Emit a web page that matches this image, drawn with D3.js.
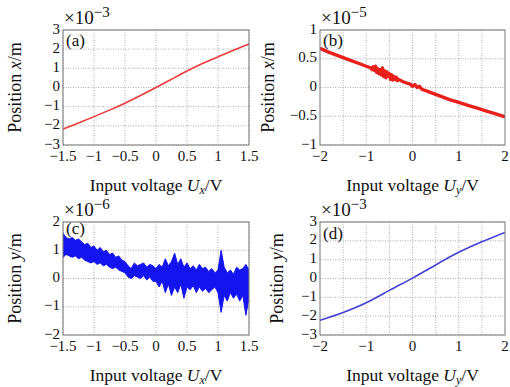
<!DOCTYPE html>
<html>
<head>
<meta charset="utf-8">
<script src="https://cdn.jsdelivr.net/npm/d3@7"></script>
<style>
  body { margin: 0; background: #fff; }
  svg { display: block; }
  text { font-family: "Liberation Serif", "Times New Roman", serif; fill: #111; }
</style>
</head>
<body>
<div id="chart"></div>
<script>
// ---- data ----
// (a) position x vs Ux, x1e-3 m
const aX = [-1.5, -1.25, -1.0, -0.75, -0.5, -0.25, 0.0, 0.25, 0.5, 0.75, 1.0, 1.25, 1.5];
const aY = [-2.17, -1.85, -1.52, -1.18, -0.82, -0.42, 0.0, 0.43, 0.86, 1.25, 1.6, 1.94, 2.27];

// (b) position x vs Uy, x1e-5 m (noisy around -0.9..-0.3)
const bX = [-2.0, -1.8, -1.6, -1.4, -1.2, -1.0,
  -0.9, -0.875, -0.85, -0.825, -0.8, -0.775, -0.75, -0.725, -0.7, -0.675, -0.65, -0.625, -0.6,
  -0.575, -0.55, -0.525, -0.5, -0.475, -0.45, -0.425, -0.4, -0.375, -0.35, -0.325, -0.3,
  -0.2, -0.1, -0.05, 0.0, 0.05, 0.1, 0.15, 0.2, 0.3, 0.4, 0.6, 0.8, 1.0, 1.2, 1.4, 1.6, 1.8, 2.0];
const bY = [0.68, 0.61, 0.55, 0.49, 0.43, 0.37,
  0.34, 0.31, 0.36, 0.30, 0.37, 0.26, 0.33, 0.24, 0.31, 0.22, 0.34, 0.19, 0.29,
  0.17, 0.27, 0.20, 0.24, 0.14, 0.22, 0.13, 0.19, 0.14, 0.18, 0.12, 0.14,
  0.10, 0.07, 0.06, 0.02, 0.05, 0.0, 0.02, -0.03, -0.06, -0.09, -0.15, -0.21, -0.26, -0.31, -0.36, -0.41, -0.46, -0.51];

// (c) position y vs Ux, x1e-6 m, noise band (upper / lower envelope)
const cX = [-1.5, -1.45, -1.4, -1.35, -1.3, -1.25, -1.2, -1.15, -1.1, -1.05, -1.0, -0.95, -0.9, -0.85,
  -0.8, -0.75, -0.7, -0.65, -0.6, -0.55, -0.5, -0.45, -0.4, -0.35, -0.3, -0.25, -0.2, -0.15, -0.1,
  -0.05, 0.0, 0.05, 0.1, 0.15, 0.2, 0.25, 0.3, 0.35, 0.4, 0.45, 0.5, 0.55, 0.6, 0.65, 0.7, 0.75,
  0.8, 0.85, 0.9, 0.95, 1.0, 1.05, 1.1, 1.15, 1.2, 1.25, 1.3, 1.35, 1.4, 1.45, 1.5];
const cHi = [1.6, 1.45, 1.4, 1.45, 1.35, 1.4, 1.3, 1.2, 1.25, 1.1, 1.15, 1.0, 1.1, 0.95,
  1.0, 0.85, 0.9, 0.75, 0.8, 0.65, 0.6, 0.45, 0.35, 0.55, 0.45, 0.5, 0.55, 0.4, 0.5,
  0.45, 0.35, 0.5, 0.4, 0.7, 0.45, 0.6, 0.9, 0.5, 0.7, 0.4, 0.55, 0.35, 0.45, 0.3, 0.5, 0.35,
  0.4, 0.25, 0.35, 0.2, 0.3, 1.0, 0.4, 0.2, 0.3, 0.15, 0.4, 0.3, 0.35, 0.5, 0.3];
const cLo = [0.75, 0.85, 0.8, 0.75, 0.8, 0.7, 0.75, 0.65, 0.6, 0.55, 0.6, 0.5, 0.55, 0.45,
  0.5, 0.4, 0.35, 0.4, 0.3, 0.25, 0.2, 0.05, 0.0, 0.1, 0.05, 0.0, 0.1, -0.05, 0.05,
  -0.1, -0.1, -0.3, -0.1, -0.5, -0.2, -0.6, -0.3, -0.5, -0.2, -0.7, -0.3, -0.4, -0.25, -0.5, -0.3, -0.45,
  -0.35, -0.5, -0.4, -0.3, -0.5, -1.2, -0.6, -0.8, -0.5, -0.7, -0.55, -0.8, -0.6, -1.3, -0.7];

// (d) position y vs Uy, x1e-3 m
const dX = [-2.0, -1.5, -1.0, -0.5, 0.0, 0.5, 1.0, 1.5, 2.0];
const dY = [-2.22, -1.8, -1.29, -0.63, 0.02, 0.72, 1.39, 1.95, 2.45];

// tick values
const ticksX15 = [-1.5, -1, -0.5, 0, 0.5, 1, 1.5];
const ticksX2 = [-2, -1, 0, 1, 2];
const gridX2 = [-1.5, -1, -0.5, 0, 0.5, 1, 1.5];
const ticksY3 = [-3, -2, -1, 0, 1, 2, 3];
const ticksY1 = [-1, -0.5, 0, 0.5, 1];
const ticksY2 = [-2, -1, 0, 1, 2];

const W = 510, H = 387;
const svg = d3.select('#chart').append('svg').attr('width', W).attr('height', H);

const fmt = v => (v < 0 ? '\u2212' : '') + Math.abs(v);

function drawPanel(p) {
  const x = d3.scaleLinear().domain(p.xDomain).range([p.left, p.right]);
  const y = d3.scaleLinear().domain(p.yDomain).range([p.bottom, p.top]);
  const g = svg.append('g');

  // grid
  g.selectAll('line.gx').data(p.gridX).enter().append('line')
    .attr('x1', d => x(d)).attr('x2', d => x(d))
    .attr('y1', p.top).attr('y2', p.bottom)
    .attr('stroke', '#999').attr('stroke-width', 0.8).attr('stroke-dasharray', '1,1.5');
  g.selectAll('line.gy').data(p.gridY).enter().append('line')
    .attr('x1', p.left).attr('x2', p.right)
    .attr('y1', d => y(d)).attr('y2', d => y(d))
    .attr('stroke', '#999').attr('stroke-width', 0.8).attr('stroke-dasharray', '1,1.5');

  // data
  const clip = 'clip' + p.id;
  svg.append('clipPath').attr('id', clip).append('rect')
    .attr('x', p.left).attr('y', p.top).attr('width', p.right - p.left).attr('height', p.bottom - p.top);
  const dg = g.append('g').attr('clip-path', `url(#${clip})`);
  if (p.band) {
    const area = d3.area().x((d, i) => x(p.xs[i])).y0((d, i) => y(p.lo[i])).y1((d, i) => y(p.hi[i]));
    dg.append('path').datum(p.xs).attr('d', area)
      .attr('fill', p.color).attr('stroke', p.color).attr('stroke-width', 1).attr('stroke-linejoin', 'round');
  } else {
    const line = d3.line().x((d, i) => x(p.xs[i])).y(d => y(d)).curve(p.curve);
    dg.append('path').datum(p.ys).attr('d', line)
      .attr('fill', 'none').attr('stroke', p.color).attr('stroke-width', p.width).attr('stroke-linejoin', 'round');
  }

  // box
  g.append('rect').attr('x', p.left).attr('y', p.top)
    .attr('width', p.right - p.left).attr('height', p.bottom - p.top)
    .attr('fill', 'none').attr('stroke', '#777').attr('stroke-width', 1);

  // tick labels
  g.selectAll('text.tx').data(p.ticksX).enter().append('text')
    .attr('x', d => x(d)).attr('y', p.bottom + 15.5)
    .attr('text-anchor', 'middle').attr('font-size', 15).text(fmt);
  g.selectAll('text.ty').data(p.ticksY).enter().append('text')
    .attr('x', p.left - 3).attr('y', d => y(d) + 3.5)
    .attr('text-anchor', 'end').attr('font-size', 15).text(fmt);

  // exponent
  const e = g.append('text').attr('x', p.left + 1).attr('y', p.top - 6).attr('font-size', 19);
  e.append('tspan').text('\u00d710');
  e.append('tspan').attr('dy', -7).attr('font-size', 15).text('\u2212' + p.exp);

  // panel label
  g.append('text').attr('x', p.left + 3).attr('y', p.top + p.labDy).attr('font-size', 17).text(p.name);

  // x label
  const xl = g.append('text').attr('x', (p.left + p.right) / 2).attr('y', p.bottom + 46)
    .attr('text-anchor', 'middle').attr('font-size', 17.5);
  xl.append('tspan').text('Input voltage ');
  xl.append('tspan').attr('font-style', 'italic').text('U');
  xl.append('tspan').attr('font-style', 'italic').attr('font-size', 12).attr('dy', 3).text(p.sub);
  xl.append('tspan').attr('dy', -3).text('/V');

  // y label
  const yl = g.append('text')
    .attr('transform', `translate(${p.ylx},${(p.top + p.bottom) / 2}) rotate(-90)`)
    .attr('text-anchor', 'middle').attr('font-size', 18);
  yl.append('tspan').text('Position ');
  yl.append('tspan').attr('font-style', 'italic').text(p.yv);
  yl.append('tspan').text('/m');
}

drawPanel({ id: 'a', name: '(a)', left: 63, right: 249, top: 30, bottom: 145,
  xDomain: [-1.5, 1.5], yDomain: [-3, 3], ticksX: ticksX15, ticksY: ticksY3,
  gridX: ticksX15, gridY: ticksY3, xs: aX, ys: aY, curve: d3.curveNatural,
  color: '#ee3a3a', width: 1.6, exp: 3, sub: 'x', yv: 'x', ylx: 21, labDy: 16 });

drawPanel({ id: 'b', name: '(b)', left: 320, right: 505, top: 30, bottom: 145,
  xDomain: [-2, 2], yDomain: [-1, 1], ticksX: ticksX2, ticksY: ticksY1,
  gridX: gridX2, gridY: ticksY1, xs: bX, ys: bY, curve: d3.curveLinear,
  color: '#e8201c', width: 3.4, exp: 5, sub: 'y', yv: 'x', ylx: 274, labDy: 16 });

drawPanel({ id: 'c', name: '(c)', left: 63, right: 249, top: 222, bottom: 335,
  xDomain: [-1.5, 1.5], yDomain: [-2, 2], ticksX: ticksX15, ticksY: ticksY2,
  gridX: ticksX15, gridY: ticksY2, xs: cX, hi: cHi, lo: cLo, band: true,
  color: '#1414f0', exp: 6, sub: 'x', yv: 'y', ylx: 21, labDy: 12 });

drawPanel({ id: 'd', name: '(d)', left: 320, right: 505, top: 222, bottom: 335,
  xDomain: [-2, 2], yDomain: [-3, 3], ticksX: ticksX2, ticksY: ticksY3,
  gridX: gridX2, gridY: ticksY3, xs: dX, ys: dY, curve: d3.curveNatural,
  color: '#4040d6', width: 1.6, exp: 3, sub: 'y', yv: 'y', ylx: 283, labDy: 17 });
</script>
</body>
</html>
